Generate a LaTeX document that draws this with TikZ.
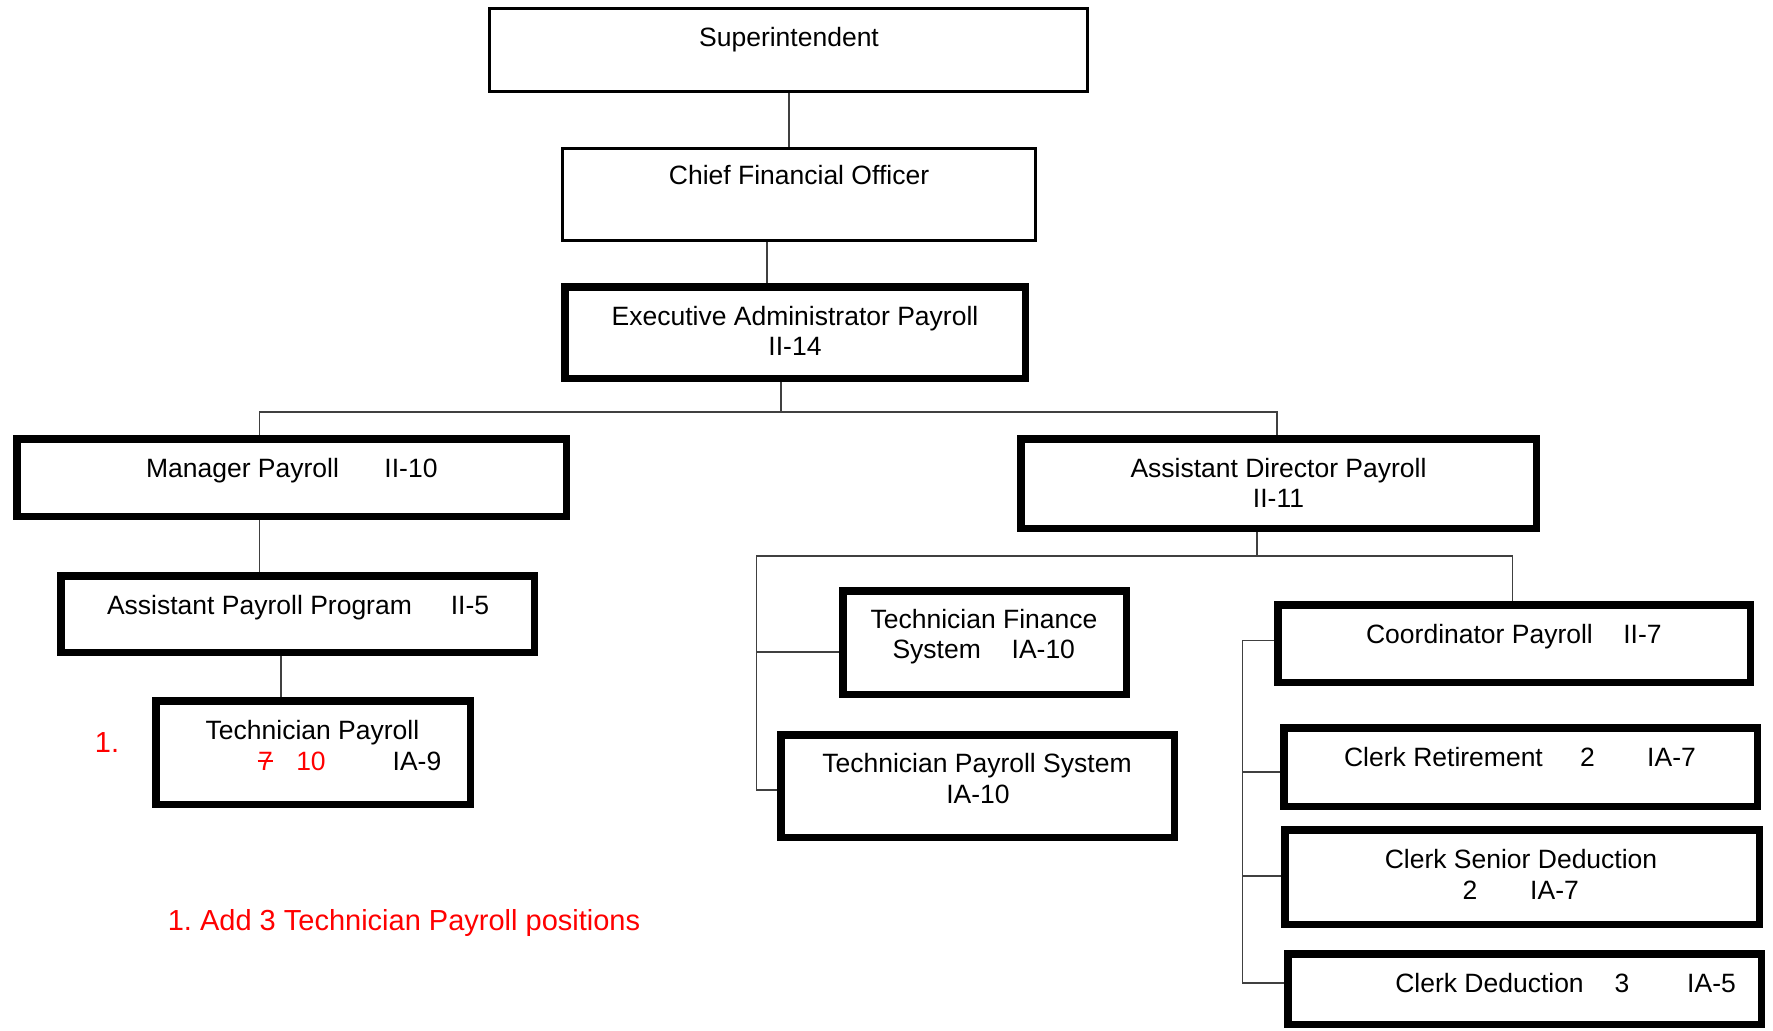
\documentclass[tikz,border=0pt]{standalone}
\usepackage{fontspec}
\setmainfont{Liberation Sans}
\usetikzlibrary{fit}
\begin{document}
\frenchspacing
\begin{tikzpicture}[x=0.5pt,y=-0.5pt,
  thinbox/.style={draw=black, line width=1.65pt, inner sep=0pt},
  thickbox/.style={draw=black, line width=3.75pt, inner sep=0pt},
  txt/.style={anchor=base, inner sep=0pt, font=\fontsize{13.25}{15}\selectfont},
  redtxt/.style={txt, text=red},
  notetxt/.style={anchor=base, inner sep=0pt, text=red, font=\fontsize{14.5}{17}\selectfont},
  conn/.style={draw=black!75, line width=0.75pt}]
\useasboundingbox (0,0) rectangle (1773,1030);

% boxes
\node[thinbox, fit={(489.65,8.65) (1087.35,91.35)}] (sup) {};
\node[thinbox, fit={(562.65,148.65) (1035.35,240.35)}] (cfo) {};
\node[thickbox, fit={(564.75,286.75) (1025.25,378.25)}] (exec) {};
\node[thickbox, fit={(16.75,438.75) (566.25,516.25)}] (mgr) {};
\node[thickbox, fit={(60.75,575.75) (534.25,652.25)}] (app) {};
\node[thickbox, fit={(155.75,700.75) (470.25,804.25)}] (tech) {};
\node[thickbox, fit={(1020.75,438.75) (1536.25,528.25)}] (adp) {};
\node[thickbox, fit={(842.75,590.75) (1126.25,694.25)}] (tfs) {};
\node[thickbox, fit={(780.75,734.75) (1174.25,837.25)}] (tps) {};
\node[thickbox, fit={(1277.75,604.75) (1750.25,682.25)}] (coord) {};
\node[thickbox, fit={(1283.75,727.75) (1757.25,806.25)}] (cret) {};
\node[thickbox, fit={(1284.75,829.75) (1759.25,924.25)}] (csd) {};
\node[thickbox, fit={(1287.75,953.75) (1761.25,1024.25)}] (cded) {};

% texts
\node[txt] (tsup) at (789,46) {Superintendent};
\node[txt] (tcfo) at (799,184) {Chief Financial Officer};
\node[txt] (texa) at (795,325.5) {Executive Administrator Payroll};
\node[txt] (texb) at (795,355) {II-14};
\node[txt] (tmga) at (242.5,477) {Manager Payroll};
\node[txt] (tmgb) at (411,477) {II-10};
\node[txt] (tapa) at (259.5,614.5) {Assistant Payroll Program};
\node[txt] (tapb) at (470,614.5) {II-5};
\node[txt] (ttea) at (312.5,739) {Technician Payroll};
\node[redtxt] (tseven) at (265.5,770) {7};
\draw[red, line width=0.75pt] (tseven.west) -- (tseven.east);
\node[redtxt] (tten) at (311,770) {10};
\node[txt] (tteb) at (417,770) {IA-9};
\node[notetxt] (tone) at (107,752) {1.};
\node[notetxt] (tnote) at (404,930) {1. Add 3 Technician Payroll positions};
\node[txt] (tada) at (1278.5,477.6) {Assistant Director Payroll};
\node[txt] (tadb) at (1278.5,507.5) {II-11};
\node[txt] (ttfa) at (984,628) {Technician Finance};
\node[txt] (ttfb) at (936.7,658) {System};
\node[txt] (ttfc) at (1043.3,658) {IA-10};
\node[txt] (ttpa) at (977,772) {Technician Payroll System};
\node[txt] (ttpb) at (978,803) {IA-10};
\node[txt] (tcoa) at (1479.5,643) {Coordinator Payroll};
\node[txt] (tcob) at (1642.5,643) {II-7};
\node[txt] (tcra) at (1443.5,766.5) {Clerk Retirement};
\node[txt] (tcrb) at (1587.5,766.5) {2};
\node[txt] (tcrc) at (1671.5,766.5) {IA-7};
\node[txt] (tcsa) at (1521,868) {Clerk Senior Deduction};
\node[txt] (tcsb) at (1470,899) {2};
\node[txt] (tcsc) at (1554.5,899) {IA-7};
\node[txt] (tcda) at (1489.5,992) {Clerk Deduction};
\node[txt] (tcdb) at (1622,992) {3};
\node[txt] (tcdc) at (1711.5,992) {IA-5};

% connector coordinates
\coordinate (xa) at (789,0);
\coordinate (xb) at (767,0);
\coordinate (bus1) at (781,412);
\coordinate (xm) at (259.5,0);
\coordinate (xd) at (1277,0);
\coordinate (xt) at (281,0);
\coordinate (bus2) at (1257,556);
\coordinate (xr) at (1512.7,0);
\coordinate (ltfs) at (756.5,652);
\coordinate (ltps) at (756.5,790);
\coordinate (rc) at (1242.6,640.6);
\coordinate (rr) at (1242.6,772);
\coordinate (rs) at (1242.6,876);
\coordinate (rd) at (1242.6,983);

% connectors
\draw[conn] (sup.south -| xa) -- (cfo.north -| xa);
\draw[conn] (cfo.south -| xb) -- (exec.north -| xb);
\draw[conn] (exec.south -| bus1) -- (bus1);
\draw[conn] (mgr.north -| xm) |- (bus1) -| (adp.north -| xd);
\draw[conn] (mgr.south -| xm) -- (app.north -| xm);
\draw[conn] (app.south -| xt) -- (tech.north -| xt);
\draw[conn] (adp.south -| bus2) -- (bus2);
\draw[conn] (tps.west |- ltps) -- (ltps) |- (bus2) -| (coord.north -| xr);
\draw[conn] (ltfs) -- (tfs.west |- ltfs);
\draw[conn] (coord.west |- rc) -- (rc) -- (rd) -- (cded.west |- rd);
\draw[conn] (rr) -- (cret.west |- rr);
\draw[conn] (rs) -- (csd.west |- rs);
\end{tikzpicture}
\end{document}
